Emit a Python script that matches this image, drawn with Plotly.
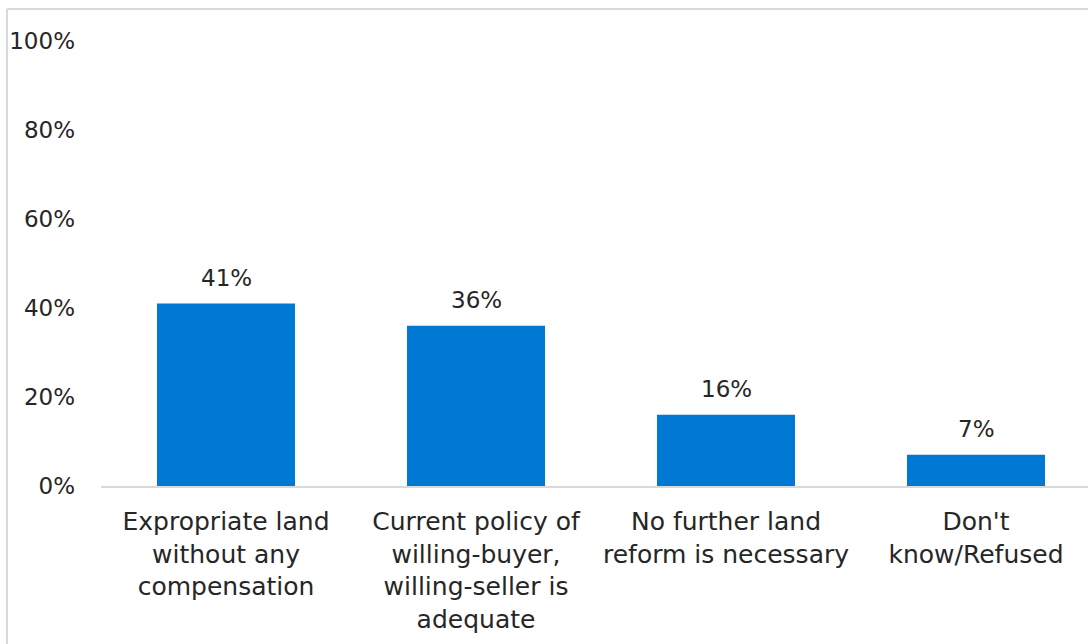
import plotly.graph_objects as go

categories = [
    "Expropriate land<br>without any<br>compensation",
    "Current policy of<br>willing-buyer,<br>willing-seller is<br>adequate",
    "No further land<br>reform is necessary",
    "Don't<br>know/Refused",
]
values = [41, 36, 16, 7]
value_labels = ["41%", "36%", "16%", "7%"]
y_ticks = [0, 20, 40, 60, 80, 100]
y_tick_labels = ["0%", "20%", "40%", "60%", "80%", "100%"]

FONT = "DejaVu Sans"
TXT = "#262626"
W, H = 1088, 644
L, T, B = 101, 41, 158
R = 0
plot_w = W - L - R
plot_h = H - T - B

xs = list(range(len(categories)))

fig = go.Figure(
    go.Bar(
        x=xs,
        y=values,
        width=0.552,
        marker=dict(color="#0078d4", line=dict(width=0)),
        hoverinfo="skip",
    )
)

for xi, v, lab in zip(xs, values, value_labels):
    fig.add_annotation(
        x=xi, y=v, xref="x", yref="y", text=lab, showarrow=False,
        yanchor="bottom", yshift=11,
        font=dict(family=FONT, size=23, color=TXT),
    )

x_end = -0.5 + plot_w / 250.0

fig.update_layout(
    width=W,
    height=H,
    margin=dict(l=L, r=R, t=T, b=B, pad=0),
    paper_bgcolor="white",
    plot_bgcolor="white",
    showlegend=False,
    font=dict(family=FONT, size=23, color=TXT),
    xaxis=dict(
        range=[-0.5, x_end],
        tickmode="array",
        tickvals=xs,
        ticktext=categories,
        showgrid=False,
        zeroline=False,
        showline=True,
        linecolor="#d9d9d9",
        linewidth=2,
        ticks="",
        ticklabelstandoff=12,
        tickfont=dict(family=FONT, size=25, color=TXT),
        fixedrange=True,
    ),
    yaxis=dict(
        range=[0, 100],
        tickmode="array",
        tickvals=y_ticks,
        ticktext=y_tick_labels,
        showgrid=False,
        zeroline=False,
        showline=False,
        ticks="",
        ticklabelstandoff=25,
        tickfont=dict(family=FONT, size=23, color=TXT),
        fixedrange=True,
    ),
)

# outer chart border (left and top edges visible in the crop)
bx = (7 - L) / plot_w
by = (H - B - 9) / plot_h
fig.add_shape(type="line", xref="paper", yref="paper", x0=bx, x1=bx, y0=-0.5, y1=by,
              line=dict(color="#d9d9d9", width=2))
fig.add_shape(type="line", xref="paper", yref="paper", x0=bx, x1=1.2, y0=by, y1=by,
              line=dict(color="#d9d9d9", width=2))

fig.write_html(
    "out.html",
    config={"displayModeBar": False},
    post_script="document.body.style.margin='0';document.body.style.overflow='hidden';",
)
